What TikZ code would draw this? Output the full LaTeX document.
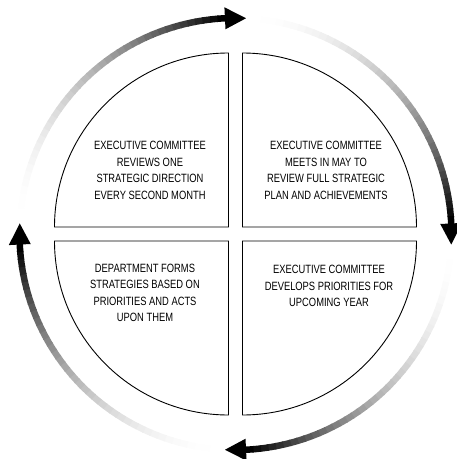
\documentclass[tikz,border=0pt]{standalone}
\usepackage{fontspec}
\setmainfont[FakeStretch=0.78]{Liberation Sans}
\begin{document}
\begin{tikzpicture}[x=1pt, y=1pt,
  quad/.style={draw=black, line width=0.9pt, fill=white},
  txt/.style={align=center, font=\fontsize{12}{16.5}\selectfont},
  ring/.style={line width=6.5pt},
  head/.style={fill=black}]
\useasboundingbox (-235.5,-225) rectangle (221.5,234);
% Quadranten
\draw[quad] (-7,7) -- (-7,181) arc[start angle=90, end angle=180, radius=174] -- cycle;
\draw[quad] (7,7) -- (181,7) arc[start angle=0, end angle=90, radius=174] -- cycle;
\draw[quad] (7,-7) -- (7,-181) arc[start angle=270, end angle=360, radius=174] -- cycle;
\draw[quad] (-7,-7) -- (-181,-7) arc[start angle=180, end angle=270, radius=174] -- cycle;

% Texte
\node[txt] (review) at (-85.5,63.5) {EXECUTIVE COMMITTEE\\REVIEWS ONE\\STRATEGIC DIRECTION\\EVERY SECOND MONTH};
\node[txt] (meets) at (90.5,63.5) {EXECUTIVE COMMITTEE\\MEETS IN MAY TO\\REVIEW FULL STRATEGIC\\PLAN AND ACHIEVEMENTS};
\node[txt] (develop) at (93.5,-52) {EXECUTIVE COMMITTEE\\DEVELOPS PRIORITIES FOR\\UPCOMING YEAR};
\node[txt] (forms) at (-90.5,-59) {DEPARTMENT FORMS\\STRATEGIES BASED ON\\PRIORITIES AND ACTS\\UPON THEM};

% Kreislauf
\foreach \e in {90,0,-90,-180}{
  \foreach \i [evaluate=\i as \a using \e+87.2-\i*2.01,
               evaluate=\i as \p using 100*(\i/41)^2] in {0,...,41}
    \draw[ring, black!\p] (\a:216) arc[start angle=\a, end angle=\a-2.3, radius=216];
  \fill[head] ({\e+2.8}:205) -- ({\e-2.8}:216) -- ({\e+2.8}:227) -- cycle;
}
\end{tikzpicture}
\end{document}
